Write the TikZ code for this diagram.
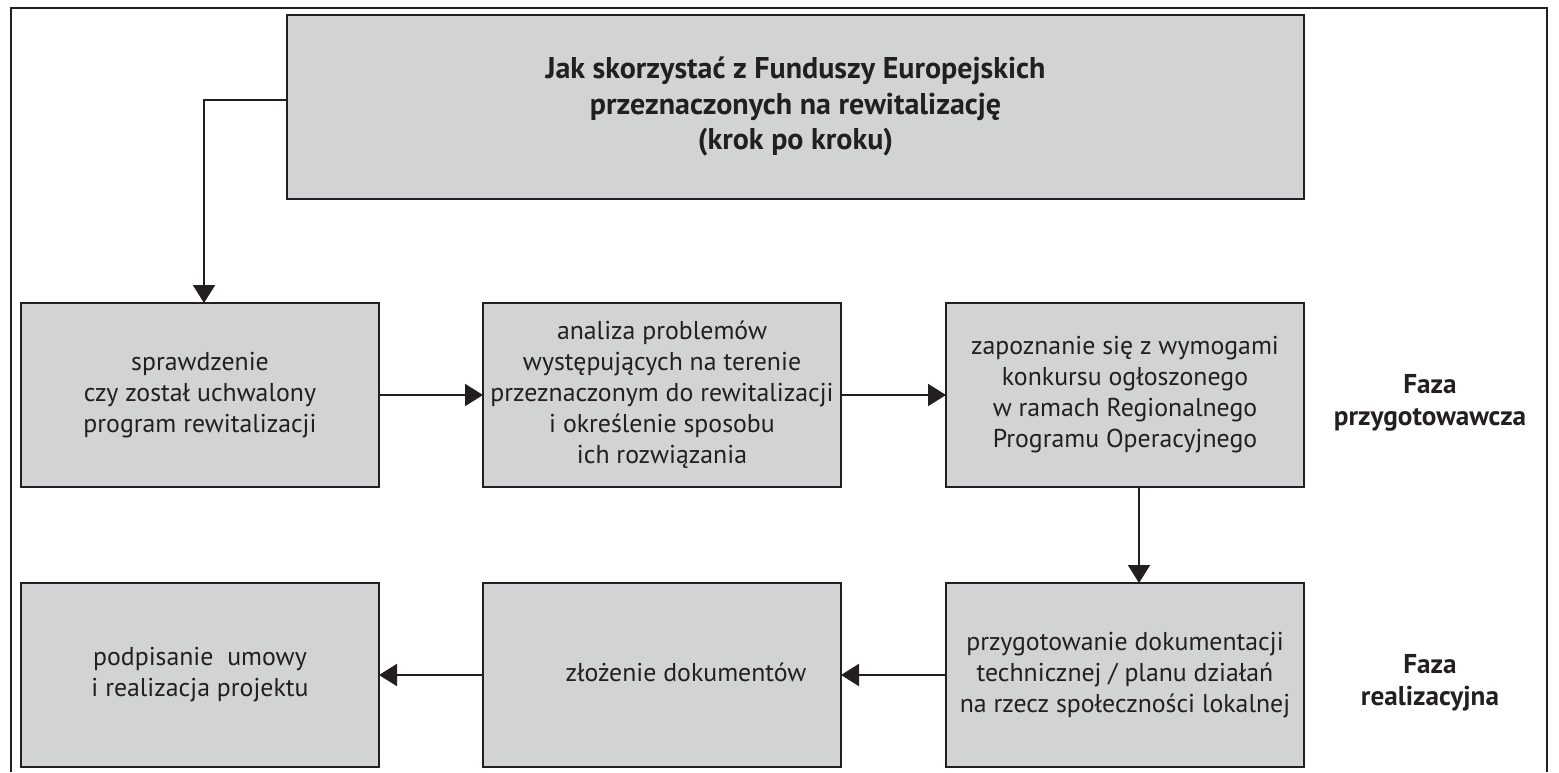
\documentclass[tikz,border=0pt]{standalone}
\usepackage{fontspec}
\setmainfont{PT Sans}
\usetikzlibrary{arrows.meta}
\definecolor{boxgray}{HTML}{D1D3D4}
\definecolor{ink}{HTML}{231F20}
\newcommand{\bodyfont}{\fontsize{12.9}{15.5}\selectfont}
\newcommand{\phasefont}{\fontsize{13.6}{15.8}\selectfont\bfseries}
\newcommand{\titlefont}{\fontsize{15}{17.75}\selectfont\bfseries}
\newcommand{\lines}[1]{\begin{tabular}{@{}c@{}}#1\end{tabular}}
\tikzset{
  stepbox/.style={draw=ink, fill=boxgray, line width=1.4pt, rectangle,
    minimum width=179pt, minimum height=92pt, inner sep=0pt, outer sep=0pt,
    font=\bodyfont, text=ink},
  titlebox/.style={stepbox, minimum width=508.5pt, font=\titlefont},
  phase/.style={font=\phasefont, text=ink, align=center, inner sep=0pt},
  conn/.style={draw=ink, line width=1pt, -{Triangle[width=11pt,length=9pt]}}
}
\begin{document}
\begin{tikzpicture}[x=0.5pt,y=-0.5pt]
\useasboundingbox (0,0) rectangle (1559,772);
% outer frame
\draw[ink, line width=1.4pt] (11,772) -- (11,8) -- (1547,8) -- (1547,772);

\node[titlebox] (title) at (795.5,107) {\lines{Jak skorzystać z Funduszy Europejskich\\przeznaczonych na rewitalizację\\(krok po kroku)}\hspace{28pt}};

\node[stepbox] (b1) at (200,395) {\lines{sprawdzenie\\czy został uchwalony\\program rewitalizacji}\hspace{20pt}};
\node[stepbox] (b2) at (662,395) {\lines{analiza problemów\\występujących na terenie\\przeznaczonym do rewitalizacji\\i określenie sposobu\\ich rozwiązania}};
\node[stepbox] (b3) at (1125,395) {\lines{zapoznanie się z wymogami\\konkursu ogłoszonego\\w ramach Regionalnego\\Programu Operacyjnego}\hspace{4pt}};

\node[stepbox] (r1) at (200,675) {\lines{podpisanie\ \ umowy\\i realizacja projektu}\hspace{12pt}};
\node[stepbox] (r2) at (662,675) {\hspace{24pt}\lines{złożenie dokumentów}};
\node[stepbox] (r3) at (1125,675) {\lines{przygotowanie dokumentacji\\technicznej / planu działań\\na rzecz społeczności lokalnej}};

\node[phase] (p1) at (1430,403) {Faza\\przygotowawcza};
\node[phase] (p2) at (1430,683) {Faza\\realizacyjna};

\draw[conn] ([yshift=3.5pt]title.west) -| ([xshift=2pt]b1.north);
\draw[conn] (b1.east) -- (b2.west);
\draw[conn] (b2.east) -- (b3.west);
\draw[conn] ([xshift=7pt]b3.south) -- ([xshift=7pt]r3.north);
\draw[conn] (r3.west) -- (r2.east);
\draw[conn] (r2.west) -- (r1.east);
\end{tikzpicture}
\end{document}
